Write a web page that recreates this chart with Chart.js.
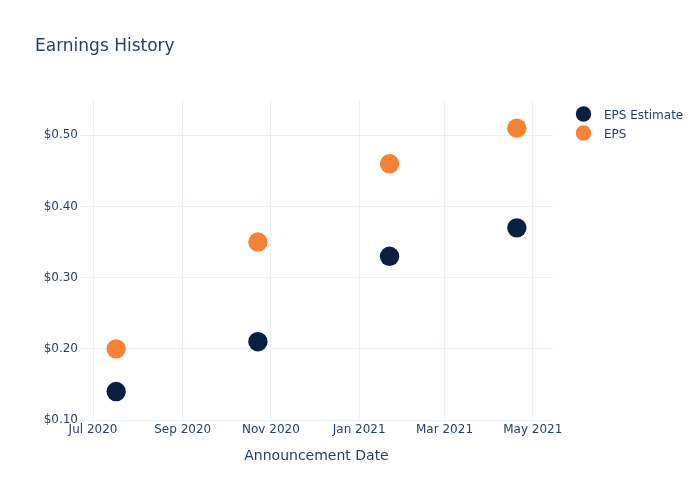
<!DOCTYPE html>
<html>
<head>
<meta charset="utf-8">
<script src="https://cdn.jsdelivr.net/npm/chart.js@4.4.0/dist/chart.umd.min.js"></script>
<style>
  html, body { margin: 0; padding: 0; background: #fff; }
  #wrap { width: 700px; height: 500px; }
</style>
</head>
<body>
<div id="wrap"><canvas id="myChart"></canvas></div>
<script>
const dates = ['2020-07-17', '2020-10-23', '2021-01-22', '2021-04-20'];
const epsEstimate = [0.14, 0.21, 0.33, 0.37];
const eps = [0.20, 0.35, 0.46, 0.51];
const xTickDates = ['2020-07-01', '2020-09-01', '2020-11-01', '2021-01-01', '2021-03-01', '2021-05-01'];
const xTickLabels = ['Jul 2020', 'Sep 2020', 'Nov 2020', 'Jan 2021', 'Mar 2021', 'May 2021'];
const yTicks = [0.10, 0.20, 0.30, 0.40, 0.50];

const FONT = '"DejaVu Sans", sans-serif';
const TEXT = '#2a3f5f';
const GRID = '#ebf0f8';

function toPoints(values) {
  return values.map((v, i) => ({ x: Date.parse(dates[i]), y: v }));
}

// title + legend, drawn plotly style
const extras = {
  id: 'extras',
  afterDraw(chart) {
    const c = chart.ctx;
    c.save();
    c.textBaseline = 'alphabetic';
    c.fillStyle = TEXT;
    c.font = '17px ' + FONT;
    c.fillText('Earnings History', 35, 50.5);
    c.font = '12px ' + FONT;
    chart.data.datasets.forEach((ds, i) => {
      const y = 114 + i * 19;
      c.fillStyle = ds.backgroundColor;
      c.beginPath();
      c.arc(583.5, y, 7.7, 0, Math.PI * 2);
      c.fill();
      c.fillStyle = TEXT;
      c.fillText(ds.label, 604, y + 4.5);
    });
    c.restore();
  }
};

const ctx = document.getElementById('myChart');

new Chart(ctx, {
  type: 'scatter',
  data: {
    datasets: [{
      label: 'EPS Estimate',
      data: toPoints(epsEstimate),
      backgroundColor: '#0b1f40',
      borderColor: '#0b1f40',
      pointBorderWidth: 0,
      pointRadius: 9.7,
      pointHoverRadius: 9.7,
    }, {
      label: 'EPS',
      data: toPoints(eps),
      backgroundColor: '#f68237',
      borderColor: '#f68237',
      pointBorderWidth: 0,
      pointRadius: 9.7,
      pointHoverRadius: 9.7,
    }]
  },
  options: {
    responsive: true,
    maintainAspectRatio: false,
    animation: false,
    layout: { padding: { left: 0, right: 147, top: 100, bottom: 0 } },
    plugins: {
      legend: { display: false },
      tooltip: { enabled: false },
    },
    scales: {
      x: {
        type: 'linear',
        min: Date.parse('2020-06-22'),
        max: Date.parse('2021-05-15'),
        afterBuildTicks: (scale) => {
          scale.ticks = xTickDates.map(d => ({ value: Date.parse(d) }));
        },
        afterFit: (scale) => {
          scale.height = 80;
          scale.paddingLeft = 0;
          scale.paddingRight = 0;
        },
        grid: { color: GRID, drawTicks: false },
        border: { display: false },
        ticks: {
          color: TEXT,
          padding: 3,
          maxRotation: 0,
          autoSkip: false,
          font: { family: FONT, size: 12 },
          callback: (v) => xTickLabels[xTickDates.findIndex(d => Date.parse(d) === v)],
        },
        title: {
          display: true,
          text: 'Announcement Date',
          color: TEXT,
          font: { family: FONT, size: 14 },
          padding: { top: 0, bottom: 35 },
        }
      },
      y: {
        min: 0.10,
        max: 0.5496,
        afterBuildTicks: (scale) => {
          scale.ticks = yTicks.map(v => ({ value: v }));
        },
        afterFit: (scale) => {
          scale.width = 80;
          scale.paddingTop = 0;
          scale.paddingBottom = 0;
        },
        grid: { color: GRID, drawTicks: false },
        border: { display: false },
        ticks: {
          color: TEXT,
          padding: 2,
          font: { family: FONT, size: 12 },
          callback: (v) => '$' + v.toFixed(2),
        }
      }
    }
  },
  plugins: [extras]
});
</script>
</body>
</html>
